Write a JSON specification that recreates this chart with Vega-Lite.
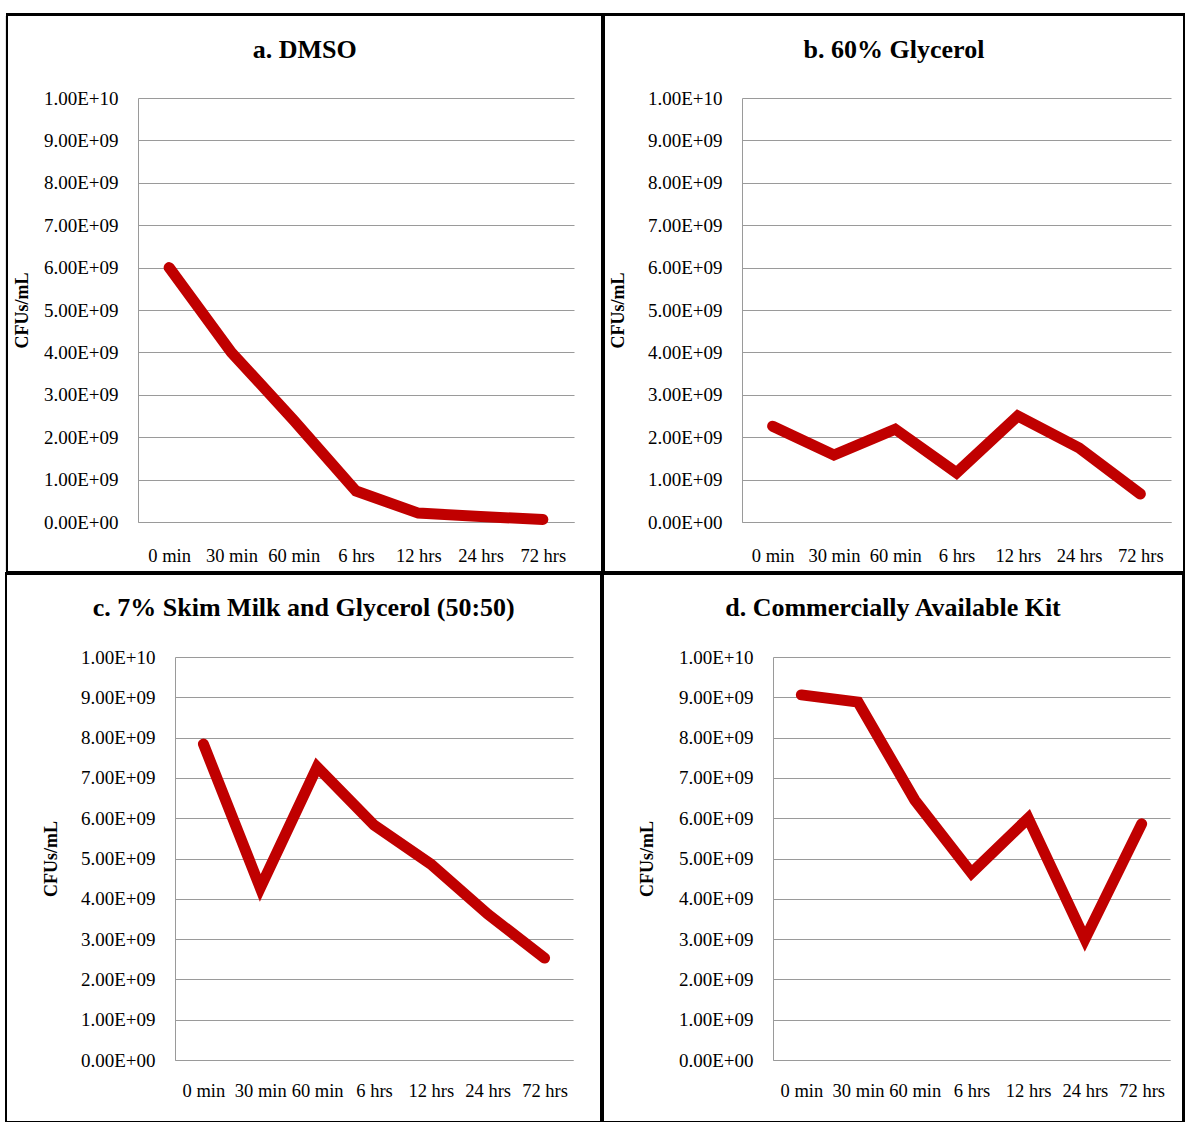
{
  "$schema": "https://vega.github.io/schema/vega-lite/v6.json",
  "padding": {"left": 5, "top": 13, "right": 0, "bottom": 0},
  "autosize": {"type": "pad"},
  "background": "white",
  "spacing": -2,
  "bounds": "full",
  "datasets": {
    "cfu": [
      {"panel": "a", "time": "0 min", "cfu": 6.0e9},
      {"panel": "a", "time": "30 min", "cfu": 4.0e9},
      {"panel": "a", "time": "60 min", "cfu": 2.4e9},
      {"panel": "a", "time": "6 hrs", "cfu": 0.73e9},
      {"panel": "a", "time": "12 hrs", "cfu": 0.21e9},
      {"panel": "a", "time": "24 hrs", "cfu": 0.13e9},
      {"panel": "a", "time": "72 hrs", "cfu": 0.06e9},
      {"panel": "b", "time": "0 min", "cfu": 2.26e9},
      {"panel": "b", "time": "30 min", "cfu": 1.58e9},
      {"panel": "b", "time": "60 min", "cfu": 2.19e9},
      {"panel": "b", "time": "6 hrs", "cfu": 1.16e9},
      {"panel": "b", "time": "12 hrs", "cfu": 2.5e9},
      {"panel": "b", "time": "24 hrs", "cfu": 1.75e9},
      {"panel": "b", "time": "72 hrs", "cfu": 0.66e9},
      {"panel": "c", "time": "0 min", "cfu": 7.84e9},
      {"panel": "c", "time": "30 min", "cfu": 4.27e9},
      {"panel": "c", "time": "60 min", "cfu": 7.27e9},
      {"panel": "c", "time": "6 hrs", "cfu": 5.83e9},
      {"panel": "c", "time": "12 hrs", "cfu": 4.86e9},
      {"panel": "c", "time": "24 hrs", "cfu": 3.62e9},
      {"panel": "c", "time": "72 hrs", "cfu": 2.53e9},
      {"panel": "d", "time": "0 min", "cfu": 9.06e9},
      {"panel": "d", "time": "30 min", "cfu": 8.88e9},
      {"panel": "d", "time": "60 min", "cfu": 6.45e9},
      {"panel": "d", "time": "6 hrs", "cfu": 4.64e9},
      {"panel": "d", "time": "12 hrs", "cfu": 6.0e9},
      {"panel": "d", "time": "24 hrs", "cfu": 3.0e9},
      {"panel": "d", "time": "72 hrs", "cfu": 5.86e9}
    ]
  },
  "config": {
    "view": {"stroke": null},
    "title": {"font": "Liberation Serif", "fontSize": 26, "fontWeight": "bold", "color": "black", "anchor": "middle", "frame": "bounds", "baseline": "alphabetic"},
    "axis": {"labelFont": "Liberation Serif", "labelColor": "black", "ticks": false, "tickSize": 0, "domainColor": "#9A9A9A", "gridColor": "#9A9A9A", "gridWidth": 1, "domainWidth": 1},
    "axisX": {"grid": false, "labelAngle": 0, "labelFontSize": 18.5, "title": null},
    "axisY": {"labelFontSize": 19, "labelPadding": 20, "titleFont": "Liberation Serif", "titleFontSize": 18, "titleFontWeight": "bold", "titleColor": "black", "titleBaseline": "middle", "titleAlign": "center"}
  },
  "vconcat": [
    {
      "spacing": -2,
      "hconcat": [
        {"width": 1, "height": 1, "data": {"values": []}, "mark": {"type": "point", "opacity": 0}},
        {
          "width": 436, "height": 424,
          "title": {"text": "a. DMSO", "offset": -49},
          "data": {"name": "cfu"},
          "layer": [
            {
              "transform": [{"filter": "datum.panel === 'a'"}],
              "mark": {"type": "line", "color": "#C00000", "strokeWidth": 11, "strokeCap": "round", "strokeJoin": "miter"},
              "encoding": {
                "x": {"field": "time", "type": "ordinal", "sort": ["0 min", "30 min", "60 min", "6 hrs", "12 hrs", "24 hrs", "72 hrs"], "scale": {"type": "point", "padding": 0.5}, "axis": {"labelPadding": 24.5}},
                "y": {"field": "cfu", "type": "quantitative", "scale": {"domain": [0, 1e10], "nice": false},
                  "axis": {"title": "CFUs/mL", "titleX": -116, "titleY": 212, "values": [0, 1e9, 2e9, 3e9, 4e9, 5e9, 6e9, 7e9, 8e9, 9e9, 1e10],
                    "labelExpr": "datum.value === 0 ? '0.00E+00' : (datum.value >= 1e10 ? replace(format(datum.value, '.2e'), 'e+', 'E+') : replace(format(datum.value, '.2e'), 'e+', 'E+0'))"}}
              }
            },
            {
              "mark": {"type": "rect", "fill": "transparent", "stroke": "black", "strokeWidth": 2, "clip": false},
              "encoding": {
                "x": {"datum": -0.30046, "type": "quantitative", "scale": {"domain": [0, 1], "nice": false, "zero": false}, "axis": null},
                "x2": {"datum": 1.06537},
                "y": {"datum": 1.19693, "type": "quantitative", "scale": {"domain": [0, 1], "nice": false, "zero": false}, "axis": null},
                "y2": {"datum": -0.118632}
              }
            }
          ],
          "resolve": {"scale": {"x": "independent", "y": "independent"}}
        },
        {
          "width": 429, "height": 424,
          "title": {"text": "b. 60% Glycerol", "offset": -49},
          "data": {"name": "cfu"},
          "layer": [
            {
              "transform": [{"filter": "datum.panel === 'b'"}],
              "mark": {"type": "line", "color": "#C00000", "strokeWidth": 11, "strokeCap": "round", "strokeJoin": "miter"},
              "encoding": {
                "x": {"field": "time", "type": "ordinal", "sort": ["0 min", "30 min", "60 min", "6 hrs", "12 hrs", "24 hrs", "72 hrs"], "scale": {"type": "point", "padding": 0.5}, "axis": {"labelPadding": 24.5}},
                "y": {"field": "cfu", "type": "quantitative", "scale": {"domain": [0, 1e10], "nice": false},
                  "axis": {"title": "CFUs/mL", "titleX": -124, "titleY": 212, "values": [0, 1e9, 2e9, 3e9, 4e9, 5e9, 6e9, 7e9, 8e9, 9e9, 1e10],
                    "labelExpr": "datum.value === 0 ? '0.00E+00' : (datum.value >= 1e10 ? replace(format(datum.value, '.2e'), 'e+', 'E+') : replace(format(datum.value, '.2e'), 'e+', 'E+0'))"}}
              }
            },
            {
              "mark": {"type": "rect", "fill": "transparent", "stroke": "black", "strokeWidth": 2, "clip": false},
              "encoding": {
                "x": {"datum": -0.32284, "type": "quantitative", "scale": {"domain": [0, 1], "nice": false, "zero": false}, "axis": null},
                "x2": {"datum": 1.03147},
                "y": {"datum": 1.19693, "type": "quantitative", "scale": {"domain": [0, 1], "nice": false, "zero": false}, "axis": null},
                "y2": {"datum": -0.118632}
              }
            }
          ],
          "resolve": {"scale": {"x": "independent", "y": "independent"}}
        }
      ]
    },
    {
      "spacing": -2,
      "hconcat": [
        {"width": 1, "height": 1, "data": {"values": []}, "mark": {"type": "point", "opacity": 0}},
        {
          "width": 398, "height": 403,
          "title": {"text": "c. 7% Skim Milk and Glycerol (50:50)", "offset": -48.5},
          "data": {"name": "cfu"},
          "layer": [
            {
              "transform": [{"filter": "datum.panel === 'c'"}],
              "mark": {"type": "line", "color": "#C00000", "strokeWidth": 11, "strokeCap": "round", "strokeJoin": "miter"},
              "encoding": {
                "x": {"field": "time", "type": "ordinal", "sort": ["0 min", "30 min", "60 min", "6 hrs", "12 hrs", "24 hrs", "72 hrs"], "scale": {"type": "point", "padding": 0.5}, "axis": {"labelPadding": 21.5}},
                "y": {"field": "cfu", "type": "quantitative", "scale": {"domain": [0, 1e10], "nice": false},
                  "axis": {"title": "CFUs/mL", "titleX": -124, "titleY": 201.5, "values": [0, 1e9, 2e9, 3e9, 4e9, 5e9, 6e9, 7e9, 8e9, 9e9, 1e10],
                    "labelExpr": "datum.value === 0 ? '0.00E+00' : (datum.value >= 1e10 ? replace(format(datum.value, '.2e'), 'e+', 'E+') : replace(format(datum.value, '.2e'), 'e+', 'E+0'))"}}
              }
            },
            {
              "mark": {"type": "rect", "fill": "transparent", "stroke": "black", "strokeWidth": 2, "clip": false},
              "encoding": {
                "x": {"datum": -0.42462, "type": "quantitative", "scale": {"domain": [0, 1], "nice": false, "zero": false}, "axis": null},
                "x2": {"datum": 1.07161},
                "y": {"datum": 1.20645, "type": "quantitative", "scale": {"domain": [0, 1], "nice": false, "zero": false}, "axis": null},
                "y2": {"datum": -0.153846}
              }
            }
          ],
          "resolve": {"scale": {"x": "independent", "y": "independent"}}
        },
        {
          "width": 397, "height": 403,
          "title": {"text": "d. Commercially Available Kit", "offset": -48.5},
          "data": {"name": "cfu"},
          "layer": [
            {
              "transform": [{"filter": "datum.panel === 'd'"}],
              "mark": {"type": "line", "color": "#C00000", "strokeWidth": 11, "strokeCap": "round", "strokeJoin": "miter"},
              "encoding": {
                "x": {"field": "time", "type": "ordinal", "sort": ["0 min", "30 min", "60 min", "6 hrs", "12 hrs", "24 hrs", "72 hrs"], "scale": {"type": "point", "padding": 0.5}, "axis": {"labelPadding": 21.5}},
                "y": {"field": "cfu", "type": "quantitative", "scale": {"domain": [0, 1e10], "nice": false},
                  "axis": {"title": "CFUs/mL", "titleX": -126, "titleY": 201.5, "values": [0, 1e9, 2e9, 3e9, 4e9, 5e9, 6e9, 7e9, 8e9, 9e9, 1e10],
                    "labelExpr": "datum.value === 0 ? '0.00E+00' : (datum.value >= 1e10 ? replace(format(datum.value, '.2e'), 'e+', 'E+') : replace(format(datum.value, '.2e'), 'e+', 'E+0'))"}}
              }
            },
            {
              "mark": {"type": "rect", "fill": "transparent", "stroke": "black", "strokeWidth": 2, "clip": false},
              "encoding": {
                "x": {"datum": -0.42947, "type": "quantitative", "scale": {"domain": [0, 1], "nice": false, "zero": false}, "axis": null},
                "x2": {"datum": 1.03401},
                "y": {"datum": 1.20645, "type": "quantitative", "scale": {"domain": [0, 1], "nice": false, "zero": false}, "axis": null},
                "y2": {"datum": -0.153846}
              }
            }
          ],
          "resolve": {"scale": {"x": "independent", "y": "independent"}}
        }
      ]
    }
  ]
}
